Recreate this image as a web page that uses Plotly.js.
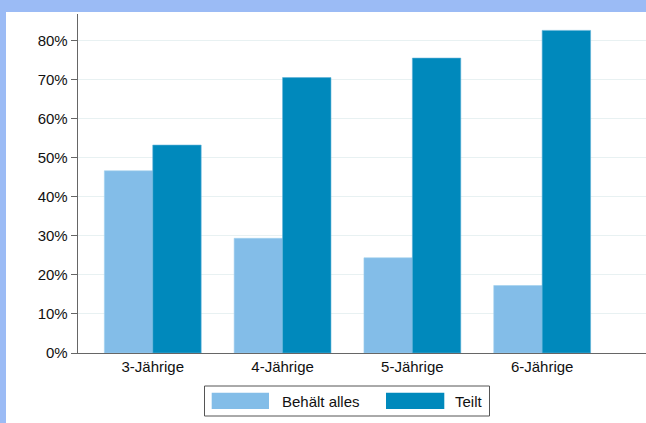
<!DOCTYPE html>
<html>
<head>
<meta charset="utf-8">
<script src="https://cdn.plot.ly/plotly-3.0.1.min.js"></script>
<style>html,body{margin:0;padding:0;background:#9bbbf5;}#chart{width:646px;height:423px;}</style>
</head>
<body>
<div id="chart"></div>
<script>
const categories = ["3-Jährige", "4-Jährige", "5-Jährige", "6-Jährige"];
const seriesNames = ["Behält alles", "Teilt"];
const behaeltAlles = [46.7, 29.4, 24.4, 17.3];
const teilt = [53.3, 70.6, 75.6, 82.7];
const yTickValues = [0, 10, 20, 30, 40, 50, 60, 70, 80];
const yTickLabels = ["0%", "10%", "20%", "30%", "40%", "50%", "60%", "70%", "80%"];
const colors = ["#83bde8", "#0089bc"];

const font = {family: "Liberation Sans, Arial, Helvetica, sans-serif", size: 15, color: "#111"};

const traces = [
  {type: "bar", name: seriesNames[0], x: categories, y: behaeltAlles,
   marker: {color: colors[0], line: {color: "#9fd0ef", width: 0.6}}, hoverinfo: "skip"},
  {type: "bar", name: seriesNames[1], x: categories, y: teilt,
   marker: {color: colors[1], line: {color: "#5fb2d8", width: 0.6}}, hoverinfo: "skip"}
];

// pixel -> paper helpers (plot area: x 78..646, y 14..353)
const L = 78, R = 646, T = 14, B = 353;
const px = v => (v - L) / (R - L);
const py = v => (B - v) / (B - T);

const shapes = [
  {type: "rect", xref: "paper", yref: "paper", x0: px(6), x1: px(700), y0: py(12), y1: py(440),
   fillcolor: "#ffffff", line: {width: 0}, layer: "below"},
  {type: "rect", xref: "paper", yref: "paper", x0: px(204.5), x1: px(489.5), y0: py(386), y1: py(416),
   fillcolor: "rgba(0,0,0,0)", line: {color: "#555", width: 1}},
  {type: "rect", xref: "paper", yref: "paper", x0: px(211.7), x1: px(269), y0: py(392.7), y1: py(409),
   fillcolor: colors[0], line: {width: 0}},
  {type: "rect", xref: "paper", yref: "paper", x0: px(386), x1: px(444.3), y0: py(392.7), y1: py(409),
   fillcolor: colors[1], line: {width: 0}}
];

const annotations = [
  {xref: "paper", yref: "paper", x: px(280), y: py(401), xanchor: "left", yanchor: "middle",
   text: seriesNames[0], showarrow: false, font: font},
  {xref: "paper", yref: "paper", x: px(453.3), y: py(401), xanchor: "left", yanchor: "middle",
   text: seriesNames[1], showarrow: false, font: font}
];

const layout = {
  width: 646, height: 423,
  margin: {l: L, r: 646 - R, t: T, b: 423 - B, pad: 0},
  paper_bgcolor: "#9bbbf5",
  plot_bgcolor: "#ffffff",
  barmode: "group",
  bargap: 0.254,
  bargroupgap: 0,
  showlegend: false,
  font: font,
  xaxis: {
    type: "category",
    range: [-0.576, 3.80],
    showgrid: false,
    zeroline: false,
    showline: true, linecolor: "#666", linewidth: 1.3,
    ticks: "", ticklen: 0,
    tickfont: font,
    fixedrange: true
  },
  yaxis: {
    range: [0, 86.9],
    tickvals: yTickValues, ticktext: yTickLabels,
    showgrid: true, gridcolor: "#e8f1f2", gridwidth: 1,
    zeroline: false,
    showline: true, linecolor: "#666", linewidth: 1.3,
    ticks: "outside", ticklen: 6, tickcolor: "#666", tickwidth: 1,
    tickfont: font,
    fixedrange: true
  },
  shapes: shapes,
  annotations: annotations
};

Plotly.newPlot("chart", traces, layout, {staticPlot: true, displayModeBar: false});
</script>
</body>
</html>
